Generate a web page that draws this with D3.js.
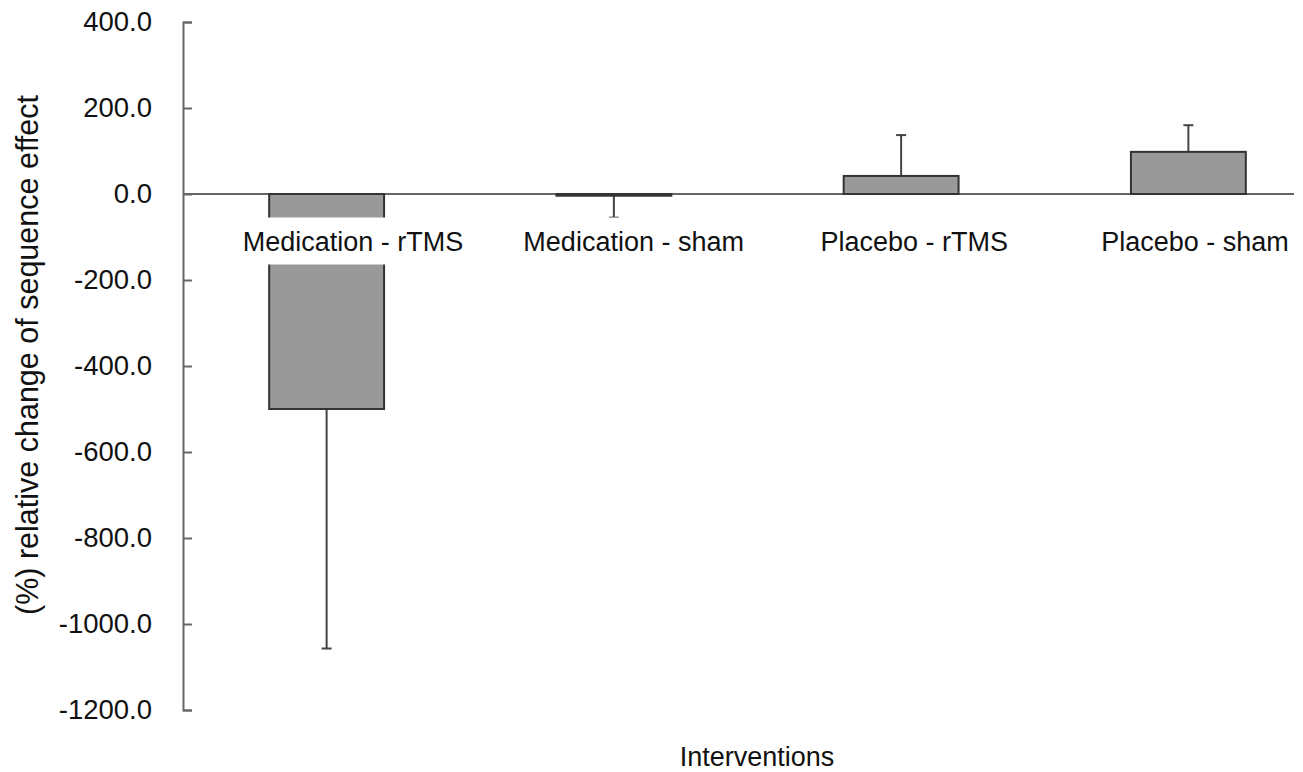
<!DOCTYPE html>
<html>
<head>
<meta charset="utf-8">
<script src="https://cdn.jsdelivr.net/npm/d3@7"></script>
<style>
  body { margin: 0; background: #fff; }
  text { font-family: "Liberation Sans", Arial, sans-serif; fill: #111; }
</style>
</head>
<body>
<div id="container"></div>
<script>
var categories = ["Medication - rTMS", "Medication - sham", "Placebo - rTMS", "Placebo - sham"];
var means = [-500, -4, 42, 98];
var errors = [557, 51, 95, 62];
var yTicks = [400, 200, 0, -200, -400, -600, -800, -1000, -1200];

var width = 1303;
var height = 772;
var axisX = 183;

var svg = d3.select("#container").append("svg")
            .attr("width", width)
            .attr("height", height);

var y = d3.scaleLinear().domain([-1200, 400]).range([710, 22]);
var x = d3.scaleBand().domain(categories).range([axisX, 1332])
          .paddingInner(0.6).paddingOuter(0.3);
var xLabel = d3.scalePoint().domain(categories).range([353, 1195]);

var fmt = d3.format(".1f");

// y axis with inward ticks
var yAxis = d3.axisLeft(y)
              .tickValues(yTicks)
              .tickSize(-9)
              .tickPadding(31)
              .tickFormat(function (d) { return fmt(d).replace("\u2212", "-"); });

var gy = svg.append("g")
            .attr("transform", "translate(" + axisX + ",0)")
            .call(yAxis);
gy.select(".domain").attr("stroke", "#666").attr("stroke-width", 2);
gy.selectAll(".tick line").attr("stroke", "#666").attr("stroke-width", 2);
gy.selectAll(".tick text")
  .style("font-size", "27.5px")
  .attr("fill", "#111");

// zero line
svg.append("line")
   .attr("x1", axisX)
   .attr("x2", 1294)
   .attr("y1", y(0))
   .attr("y2", y(0))
   .attr("stroke", "#666")
   .attr("stroke-width", 2);

var data = categories.map(function (c, i) {
  return { cat: c, mean: means[i], err: errors[i] };
});

// error bars (one-sided, away from zero)
var capHalf = 5;
data.forEach(function (d) {
  var cx = x(d.cat) + x.bandwidth() / 2;
  var end = d.mean < 0 ? d.mean - d.err : d.mean + d.err;
  svg.append("line")
     .attr("x1", cx).attr("x2", cx)
     .attr("y1", y(d.mean)).attr("y2", y(end))
     .attr("stroke", "#444").attr("stroke-width", 2);
  svg.append("line")
     .attr("x1", cx - capHalf).attr("x2", cx + capHalf)
     .attr("y1", y(end)).attr("y2", y(end))
     .attr("stroke", "#444").attr("stroke-width", 2);
});

// bars
svg.selectAll("rect.bar")
   .data(data)
   .enter()
   .append("rect")
   .attr("class", "bar")
   .attr("x", function (d) { return x(d.cat); })
   .attr("width", x.bandwidth())
   .attr("y", function (d) { return y(Math.max(0, d.mean)); })
   .attr("height", function (d) { return Math.abs(y(d.mean) - y(0)); })
   .style("fill", "#999")
   .style("stroke", "#333")
   .style("stroke-width", 2);

// category labels with white boxes
var labels = svg.selectAll("g.label")
                .data(categories)
                .enter()
                .append("g")
                .attr("class", "label");

labels.append("text")
      .text(function (d) { return d; })
      .attr("x", function (d) { return xLabel(d); })
      .attr("y", y(0) + 56.5)
      .attr("text-anchor", "middle")
      .style("font-size", "27px");

labels.each(function () {
  var g = d3.select(this);
  var bb = g.select("text").node().getBBox();
  g.insert("rect", "text")
   .attr("x", bb.x - 4)
   .attr("y", bb.y - 9)
   .attr("width", bb.width + 8)
   .attr("height", bb.height + 17)
   .style("fill", "#fff");
});

// axis titles
svg.append("text")
   .text("Interventions")
   .attr("x", 757)
   .attr("y", 766)
   .attr("text-anchor", "middle")
   .style("font-size", "27px");

svg.append("text")
   .text("(%) relative change of sequence effect")
   .attr("transform", "translate(38,355) rotate(-90)")
   .attr("text-anchor", "middle")
   .style("font-size", "30.5px");
</script>
</body>
</html>
